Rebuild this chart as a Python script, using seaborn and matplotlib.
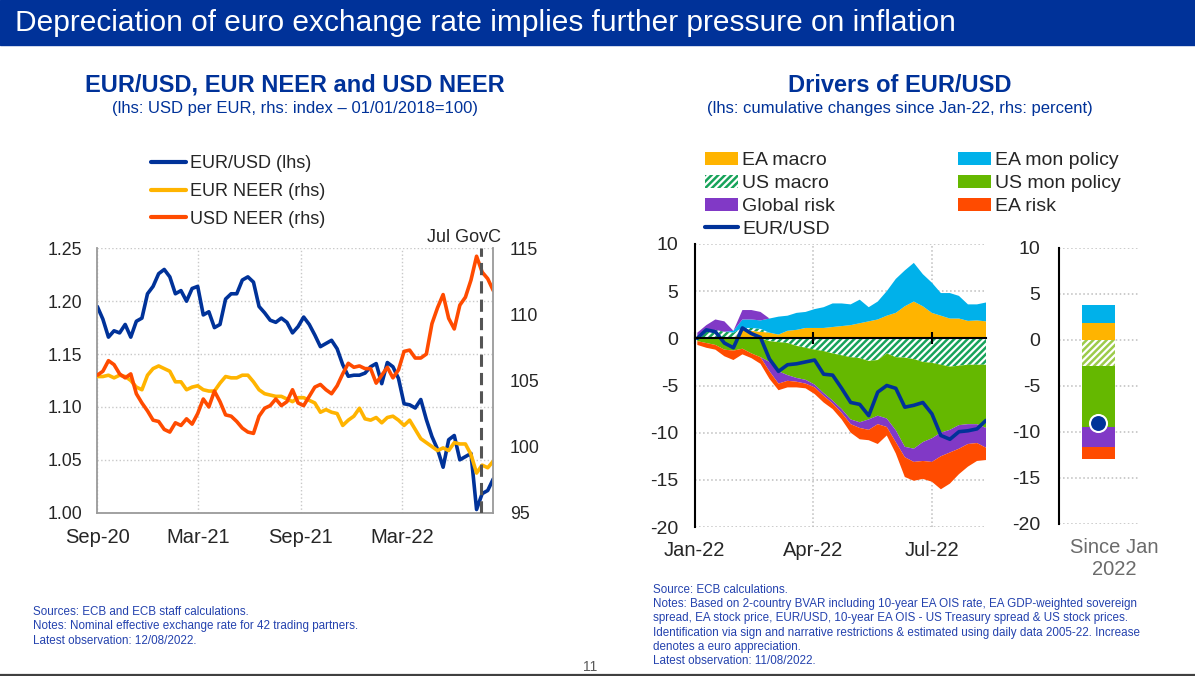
import numpy as np
import pandas as pd
import matplotlib
matplotlib.use("Agg")
import matplotlib.pyplot as plt
import matplotlib.dates as mdates
import matplotlib.patches as mpatches
from matplotlib.lines import Line2D
from matplotlib.ticker import FuncFormatter
import seaborn as sns

# ---------------- data: left chart (10-day samples, Sep-20 .. 12 Aug 2022)
left_dates = pd.date_range("2020-09-01", "2022-08-12", periods=72)
eurusd = [1.195, 1.183, 1.166, 1.172, 1.170, 1.178, 1.166, 1.181, 1.184, 1.207,
          1.214, 1.226, 1.230, 1.223, 1.207, 1.210, 1.200, 1.212, 1.214, 1.187,
          1.190, 1.175, 1.178, 1.202, 1.207, 1.207, 1.220, 1.223, 1.218, 1.195,
          1.189, 1.182, 1.180, 1.184, 1.180, 1.170, 1.176, 1.185, 1.178, 1.168,
          1.157, 1.160, 1.163, 1.155, 1.140, 1.129, 1.130, 1.130, 1.132, 1.138,
          1.141, 1.122, 1.142, 1.138, 1.127, 1.103, 1.102, 1.099, 1.107, 1.088,
          1.072, 1.060, 1.043, 1.069, 1.073, 1.050, 1.053, 1.056, 1.003, 1.018,
          1.021, 1.032]
eur_neer = [105.3, 105.3, 105.4, 105.2, 105.4, 105.3, 105.0, 104.5, 104.3, 105.4,
            105.9, 106.1, 105.9, 105.7, 104.9, 104.9, 104.3, 104.5, 104.6, 104.3,
            104.2, 104.2, 104.8, 105.3, 105.2, 105.2, 105.4, 105.4, 104.9, 104.3,
            104.0, 103.9, 103.8, 103.8, 103.6, 103.4, 103.7, 103.7, 103.5, 103.3,
            102.6, 102.8, 102.6, 102.5, 101.6, 102.0, 102.3, 102.9, 102.1, 102.0,
            102.2, 101.8, 102.2, 102.3, 102.0, 101.6, 102.0, 101.3, 100.6, 100.3,
            100.0, 99.7, 99.9, 99.7, 100.3, 100.2, 100.2, 99.4, 98.0, 98.6,
            98.4, 98.9]
usd_neer = [105.4, 105.7, 106.5, 106.2, 105.5, 105.2, 105.5, 104.0, 103.3, 102.7,
            102.0, 101.9, 101.3, 101.1, 101.8, 101.6, 102.1, 101.7, 102.5, 103.6,
            103.0, 104.2, 103.4, 102.4, 102.3, 101.9, 101.4, 101.1, 101.0, 102.3,
            102.9, 103.1, 103.6, 103.1, 103.4, 104.3, 103.3, 103.1, 103.8, 104.5,
            104.7, 104.3, 104.0, 104.6, 105.5, 106.3, 106.0, 106.1, 105.9, 105.9,
            104.8, 105.4, 106.0, 105.2, 105.8, 107.2, 107.3, 106.7, 106.7, 107.0,
            109.3, 110.5, 111.5, 109.7, 108.9, 110.7, 111.3, 112.6, 114.4, 113.2,
            112.7, 111.8]
govc_date = pd.Timestamp("2022-07-21")

# ---------------- data: drivers of EUR/USD (weekly samples since Jan-22)
drv_dates = pd.date_range("2022-01-03", "2022-08-11", periods=33)
ea_macro = [0, 0, 0, 0, 0, 0.9, 0.8, 0.7, 0.6, 0.4, 0.8, 0.9, 1.1, 1.1, 1.1, 1.2, 1.3,
            1.4, 1.6, 1.8, 2.0, 2.4, 2.7, 3.4, 3.9, 3.4, 2.7, 2.4, 2.1, 2.1, 1.85, 1.9, 1.8]
us_macro = [0, 0.7, 0.9, 0.7, 0.6, 0.2, 0.3, 0.3, -0.3, -0.4, -0.5, -0.8, -1.0, -1.2,
            -1.35, -1.6, -1.8, -2.0, -2.1, -2.4, -2.3, -1.6, -2.0, -2.05, -2.2, -2.5,
            -2.6, -2.8, -3.0, -2.9, -2.8, -2.8, -2.8]
ea_mon_policy = [0, 0, 0, 0, 0.2, 0.9, 0.9, 0.9, 1.5, 1.9, 1.6, 1.8, 1.7, 2.0, 2.2, 2.5,
                 2.4, 2.2, 2.5, 1.5, 1.9, 2.6, 3.6, 3.8, 4.1, 3.4, 3.2, 2.4, 2.7, 2.4,
                 1.75, 1.7, 2.0]
us_mon_policy = [-0.3, -0.5, -0.7, -1.2, -1.3, -1.1, -1.6, -2.0, -2.2, -3.1, -3.4, -3.4,
                 -3.4, -3.7, -4.45, -5.0, -5.7, -6.6, -6.8, -6.2, -5.9, -6.9, -7.75,
                 -9.45, -9.5, -8.5, -8.0, -7.2, -6.7, -6.3, -6.3, -6.3, -6.7]
global_risk = [0.6, 0.7, 1.1, 1.1, 0, 1.0, 1.0, 0.9, -1.0, -1.3, -0.6, -0.4, -0.4, -0.3,
               -0.3, -0.3, -0.4, -0.5, -0.6, -1.1, -0.9, -0.9, -1.25, -1.1, -1.4, -2.0,
               -2.5, -2.5, -2.4, -2.5, -2.1, -2.0, -2.1]
ea_risk = [-0.4, -0.5, -0.5, -0.7, -1.0, -0.6, -0.5, -0.7, -0.8, -0.7, -0.7, -0.6, -0.5,
           -0.7, -0.7, -0.6, -0.7, -0.9, -1.2, -1.1, -2.1, -0.9, -1.2, -2.1, -2.0, -1.9,
           -2.1, -3.5, -3.3, -2.7, -2.4, -1.9, -1.3]
eurusd_cum = [0, 0.9, 0.7, -0.5, -1.0, 1.1, 0.5, 0.1, -2.2, -3.5, -2.8, -2.7, -2.5, -2.3,
              -3.8, -3.9, -5.3, -6.8, -7.0, -8.2, -5.7, -5.0, -5.3, -7.3, -7.1, -6.8,
              -8.0, -10.3, -10.7, -9.9, -9.8, -9.6, -8.7]

# since Jan 2022 totals
bar_values = [1.8, -2.8, 2.0, -6.7, -2.1, -1.3]   # same order as driver list below
bar_eurusd = -9.0

# ---------------- style
ECB_BLUE = "#003299"
YELLOW = "#FFB400"
ORANGE = "#FF4B00"
GREEN = "#65B800"
LBLUE = "#00B1EA"
PURPLE = "#8139C6"
HATCH_GREEN = "#17A35A"
NOTE_BLUE = "#2442AE"

sns.set_theme(style="white")
plt.rcParams["font.family"] = ["Liberation Sans", "DejaVu Sans"]
plt.rcParams["hatch.linewidth"] = 1.8

W, H = 1195, 676
fig = plt.figure(figsize=(W / 100, H / 100), dpi=100)

def fx(px):
    return px / W

def fy(px):
    return 1 - px / H

# title bar
fig.add_artist(mpatches.Rectangle((0, fy(45)), 1, 45 / H, transform=fig.transFigure,
                                  color=ECB_BLUE, zorder=0))
fig.text(fx(15), fy(23), "Depreciation of euro exchange rate implies further pressure on inflation",
         color="white", fontsize=21.5, va="center", ha="left")

# ================= left chart =================
ax1 = fig.add_axes([fx(97.3), fy(512.7), 396 / W, 264.4 / H])
sns.lineplot(x=left_dates, y=eurusd, ax=ax1, color=ECB_BLUE, lw=2.6, legend=False)
ax1.set_ylim(1.0, 1.25)
ax1.set_xlim(left_dates[0], left_dates[-1])
ax1.set_yticks(np.arange(1.0, 1.2501, 0.05))
ax1.yaxis.set_major_formatter(FuncFormatter(lambda v, _: f"{v:.2f}"))
ax1.xaxis.set_major_locator(mdates.MonthLocator(bymonth=(3, 9)))
ax1.xaxis.set_major_formatter(mdates.DateFormatter("%b-%y"))
ax1.grid(True, ls=":", color="#C8C8C8", lw=1)
ax1.set_xlabel("")
ax1.set_ylabel("")
for s in ["top", "right"]:
    ax1.spines[s].set_visible(False)
for s in ["left", "bottom"]:
    ax1.spines[s].set_color("#9A9A9A")
    ax1.spines[s].set_linewidth(1.3)
ax1.tick_params(axis="y", length=0, pad=11, labelsize=12.8)
ax1.tick_params(axis="x", length=6, direction="inout", color="#9A9A9A", width=1.3,
                labelsize=14.5, pad=8)

ax1r = ax1.twinx()
sns.lineplot(x=left_dates, y=eur_neer, ax=ax1r, color=YELLOW, lw=2.6, legend=False)
sns.lineplot(x=left_dates, y=usd_neer, ax=ax1r, color=ORANGE, lw=2.6, legend=False)
ax1r.set_ylim(95, 115)
ax1r.set_yticks(np.arange(95, 116, 5))
ax1r.set_ylabel("")
for s in ["top", "left", "bottom"]:
    ax1r.spines[s].set_visible(False)
ax1r.spines["right"].set_color("#9A9A9A")
ax1r.spines["right"].set_linewidth(1.3)
ax1r.tick_params(axis="y", length=0, pad=12, labelsize=12.8)
ax1r.axvline(govc_date, color="#555555", lw=2.2, ls=(0, (4, 2)))
ax1r.annotate("Jul GovC", xy=(govc_date, 1), xycoords=("data", "axes fraction"),
              xytext=(-12, 2), textcoords="offset points", ha="center", va="bottom",
              fontsize=13)

left_handles = [Line2D([], [], color=c, lw=3) for c in (ECB_BLUE, YELLOW, ORANGE)]
fig.legend(left_handles, ["EUR/USD (lhs)", "EUR NEER (rhs)", "USD NEER (rhs)"],
           loc="upper left", bbox_to_anchor=(fx(151), fy(155)), frameon=False,
           fontsize=13, handlelength=1.95, handletextpad=0.2, labelspacing=0.6,
           borderpad=0, borderaxespad=0)

fig.text(fx(295), fy(85), "EUR/USD, EUR NEER and USD NEER", ha="center", va="center",
         fontsize=17, weight="bold", color=ECB_BLUE)
fig.text(fx(295), fy(108), "(lhs: USD per EUR, rhs: index \u2013 01/01/2018=100)",
         ha="center", va="center", fontsize=12, color=ECB_BLUE)

# ================= right chart =================
drivers = [
    ("EA macro", ea_macro, YELLOW, None),
    ("US macro", us_macro, "white", "/////"),
    ("EA mon policy", ea_mon_policy, LBLUE, None),
    ("US mon policy", us_mon_policy, GREEN, None),
    ("Global risk", global_risk, PURPLE, None),
    ("EA risk", ea_risk, ORANGE, None),
]

ax2 = fig.add_axes([fx(694.7), fy(527), 291.3 / W, 283 / H])
n = len(drv_dates)
pos_base = np.zeros(n)
neg_base = np.zeros(n)
for name, vals, color, hatch in drivers:
    v = np.asarray(vals, dtype=float)
    up = np.clip(v, 0, None)
    dn = np.clip(v, None, 0)
    for base, part in ((pos_base, up), (neg_base, dn)):
        ax2.fill_between(drv_dates, base, base + part, facecolor=color,
                         edgecolor=HATCH_GREEN if hatch else "none", hatch=hatch,
                         lw=0, zorder=2)
    pos_base = pos_base + up
    neg_base = neg_base + dn
sns.lineplot(x=drv_dates, y=eurusd_cum, ax=ax2, color=ECB_BLUE, lw=2.6, legend=False,
             zorder=4)
ax2.set_ylim(-20, 10)
ax2.set_xlim(pd.Timestamp("2022-01-01"), drv_dates[-1])
ax2.set_yticks(np.arange(-20, 11, 5))
ax2.yaxis.set_major_formatter(FuncFormatter(lambda v, _: f"{v:.0f}"))
ax2.xaxis.set_major_locator(mdates.MonthLocator(bymonth=(1, 4, 7)))
ax2.xaxis.set_major_formatter(mdates.DateFormatter("%b-%y"))
ax2.grid(True, ls=":", color="#BDBDBD", lw=1.1)
ax2.set_xlabel("")
ax2.set_ylabel("")
for s in ["top", "right", "bottom"]:
    ax2.spines[s].set_visible(False)
ax2.spines["left"].set_color("black")
ax2.spines["left"].set_linewidth(1.5)
ax2.tick_params(axis="both", length=0, labelsize=14)
ax2.tick_params(axis="x", labelsize=14.5)
ax2.tick_params(axis="y", pad=12)
ax2.tick_params(axis="x", pad=10)

# zero line with month ticks
sec = ax2.secondary_xaxis(2 / 3)
sec.xaxis.set_major_locator(mdates.MonthLocator(bymonth=(1, 4, 7)))
sec.tick_params(direction="inout", length=9, width=1.5, color="black",
                labeltop=False, labelbottom=False)
for s in sec.spines.values():
    s.set_color("black")
    s.set_linewidth(1.5)
sec.set_zorder(5)

right_handles = [
    mpatches.Patch(facecolor=YELLOW, lw=0),
    mpatches.Patch(facecolor="white", edgecolor=HATCH_GREEN, hatch="/////", lw=0),
    mpatches.Patch(facecolor=PURPLE, lw=0),
    Line2D([], [], color=ECB_BLUE, lw=3),
    mpatches.Patch(facecolor=LBLUE, lw=0),
    mpatches.Patch(facecolor=GREEN, lw=0),
    mpatches.Patch(facecolor=ORANGE, lw=0),
]
right_labels = ["EA macro", "US macro", "Global risk", "EUR/USD",
                "EA mon policy", "US mon policy", "EA risk"]
fig.legend(right_handles, right_labels, ncol=2, loc="upper left",
           bbox_to_anchor=(fx(705), fy(152)), frameon=False, fontsize=14,
           handlelength=1.7, handleheight=0.65, handletextpad=0.2, labelspacing=0.28,
           columnspacing=6.35, borderpad=0, borderaxespad=0)

fig.text(fx(900), fy(85), "Drivers of EUR/USD", ha="center", va="center",
         fontsize=17, weight="bold", color=ECB_BLUE)
fig.text(fx(900), fy(108), "(lhs: cumulative changes since Jan-22, rhs: percent)",
         ha="center", va="center", fontsize=12, color=ECB_BLUE)

# ================= since Jan 2022 bar =================
ax3 = fig.add_axes([fx(1058.6), fy(524), 79.4 / W, 276.3 / H])
pos_b, neg_b = 0.0, 0.0
for (name, _, color, hatch), val in zip(drivers, bar_values):
    base = pos_b if val >= 0 else neg_b
    ax3.bar(0, val, bottom=base, width=0.415, color=color,
            edgecolor="#9CCB4A" if hatch else "none", hatch=hatch, lw=0, zorder=2)
    if val >= 0:
        pos_b += val
    else:
        neg_b += val
sns.scatterplot(x=[0], y=[bar_eurusd], ax=ax3, s=150, color=ECB_BLUE,
                edgecolor="white", linewidth=1.5, zorder=5, legend=False)
ax3.set_xlim(-0.5, 0.5)
ax3.set_ylim(-20, 10)
ax3.set_yticks(np.arange(-20, 11, 5))
ax3.yaxis.set_major_formatter(FuncFormatter(lambda v, _: f"{v:.0f}"))
ax3.set_xticks([])
ax3.grid(True, axis="y", ls=":", color="#BDBDBD", lw=1.1)
ax3.set_xlabel("")
ax3.set_ylabel("")
for s in ["top", "right", "bottom"]:
    ax3.spines[s].set_visible(False)
ax3.spines["left"].set_color("black")
ax3.spines["left"].set_linewidth(1.5)
ax3.tick_params(axis="y", length=0, labelsize=14, pad=13)
ax3.text(0.70, -0.05, "Since Jan\n2022", transform=ax3.transAxes, ha="center",
         va="top", fontsize=14.5, color="#6B6B6B", linespacing=1.2)

# ================= footnotes =================
left_notes = ["Sources: ECB and ECB staff calculations.",
              "Notes: Nominal effective exchange rate for 42 trading partners.",
              "Latest observation: 12/08/2022."]
for k, line in enumerate(left_notes):
    fig.text(fx(33), fy(612 + 14.5 * k), line, fontsize=8.4, color=NOTE_BLUE, va="center")

right_notes = ["Source: ECB calculations.",
               "Notes: Based on 2-country BVAR including 10-year EA OIS rate, EA GDP-weighted sovereign",
               "spread, EA stock price, EUR/USD, 10-year EA OIS - US Treasury spread & US stock prices.",
               "Identification via sign and narrative restrictions & estimated using daily data 2005-22. Increase",
               "denotes a euro appreciation.",
               "Latest observation: 11/08/2022."]
for k, line in enumerate(right_notes):
    fig.text(fx(653), fy(590 + 14.2 * k), line, fontsize=8.35, color=NOTE_BLUE, va="center")

fig.text(fx(597), fy(667), "11", fontsize=10, color="#595959", ha="right", va="center")
fig.add_artist(Line2D([0, 1], [0.8 / H, 0.8 / H], transform=fig.transFigure,
                      color="#404040", lw=1.6))

fig.savefig("out.png", dpi=100)
